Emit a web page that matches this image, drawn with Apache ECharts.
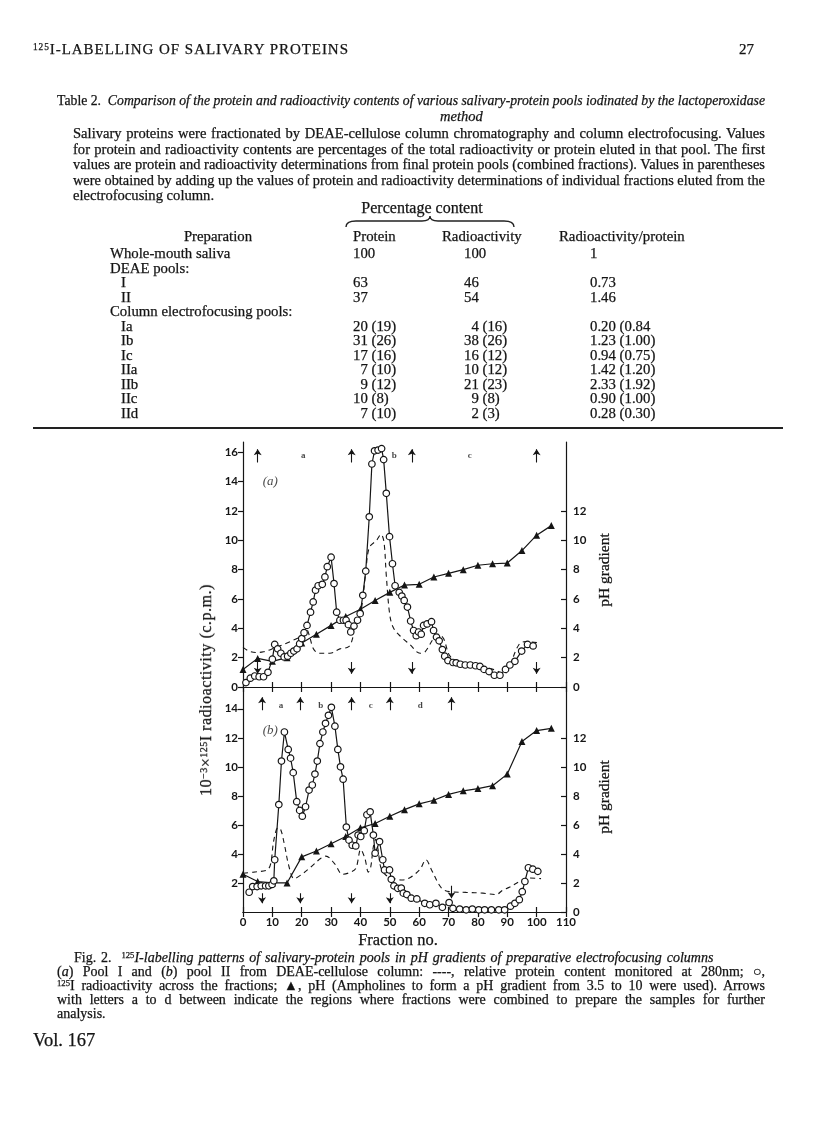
<!DOCTYPE html>
<html><head><meta charset="utf-8">
<script src="https://cdn.jsdelivr.net/npm/echarts@6/dist/echarts.min.js"></script>
<style>
html,body{margin:0;padding:0;background:#fff;}
#page{position:relative;width:816px;height:1136px;overflow:hidden;font-family:'Liberation Serif','Times New Roman',serif;color:#141414;-webkit-text-stroke:0.25px #141414;}
#chart{position:absolute;left:0;top:0;width:816px;height:1136px;}
.t{position:absolute;white-space:nowrap;line-height:1;}
sup{font-size:0.62em;vertical-align:0;position:relative;top:-0.45em;}
.rot{position:absolute;white-space:nowrap;line-height:1;transform:translate(-50%,-50%) rotate(-90deg);}
</style></head>
<body><div id="page"><div id="chart"></div></div>
<script>
// ---------- table data ----------
const prepLabels = ['Whole-mouth saliva','DEAE pools:','I','II','Column electrofocusing pools:','Ia','Ib','Ic','IIa','IIb','IIc','IId'];
const prepIndent = [0,0,1,1,0,1,1,1,1,1,1,1];
const proteinVals = ['100','','63','37','','20 (19)','31 (26)','17 (16)','7 (10)','9 (12)','10 (8)','7 (10)'];
const radioVals   = ['100','','46','54','','4 (16)','38 (26)','16 (12)','10 (12)','21 (23)','9 (8)','2 (3)'];
const ratioVals   = ['1','','0.73','1.46','','0.20 (0.84','1.23 (1.00)','0.94 (0.75)','1.42 (1.20)','2.33 (1.92)','0.90 (1.00)','0.28 (0.30)'];

// ---------- chart data: panel (a) pool I ----------
const radA = [[1,0.3],[2.5,0.6],[4,0.75],[5.5,0.7],[7,0.7],[8.5,1.0],[10,1.9],[10.8,2.9],[11.8,2.6],[12.9,2.3],[14,2.05],[15.2,2.1],[16.3,2.3],[17.3,2.45],[18.4,2.6],[19.3,2.95],[20,3.3],[20.8,3.7],[21.8,4.2],[23,5.1],[23.9,5.8],[24.7,6.6],[25.6,6.9],[27,7.0],[27.9,7.5],[28.7,8.2],[30,8.85],[31,7.05],[31.9,5.1],[33,4.55],[34.2,4.55],[35.1,4.55],[35.9,4.25],[36.7,3.75],[37.8,4.15],[39,4.55],[39.9,5.0],[40.8,6.25],[41.8,7.9],[43,11.6],[43.9,15.2],[44.8,16.1],[46,16.15],[47.2,16.25],[47.9,15.5],[48.8,13.2],[49.9,10.25],[50.9,8.4],[51.8,6.9],[53.2,6.45],[54.1,6.2],[54.9,5.9],[56,5.45],[57.1,4.5],[58.1,3.85],[59,3.5],[59.8,3.75],[60.7,3.6],[61.5,4.2],[62.7,4.3],[64.2,4.45],[64.9,3.85],[65.9,3.4],[66.8,3.15],[67.9,2.55],[68.7,2.1],[69.8,1.8],[71.5,1.67],[72.6,1.65],[74,1.55],[75.7,1.5],[77.4,1.5],[79.2,1.45],[80.7,1.4],[82.1,1.2],[83.8,1.05],[85.6,0.8],[87.5,0.8],[89.4,1.2],[90.9,1.5],[92.6,1.75],[94.9,2.45],[96.9,2.9],[98.8,2.8]];
const phA = [[0,1.2],[5,1.95],[10,1.75],[15,2.0],[20,3.0],[25,3.6],[30,4.2],[35,4.8],[40,5.3],[45,5.9],[50,6.45],[55,6.95],[60,7.0],[65,7.5],[70,7.75],[75,8.0],[80,8.3],[85,8.4],[90,8.45],[95,9.3],[100,10.35],[105,11.0]];
const proteinA = [[0,2.7],[2,2.45],[4.8,2.35],[7,2.4],[10,2.6],[15,3.0],[20,3.5],[21.7,3.9],[22.6,3.5],[24,2.6],[26,2.3],[29.6,2.3],[33,2.6],[36,2.75],[37.3,3.3],[38,4.2],[40,5.0],[41.8,7.8],[43,9.5],[45.5,10.0],[47,10.4],[48,9.9],[48.8,7.6],[50,4.9],[51.3,4.0],[53.9,3.4],[56.8,2.9],[60.3,2.3],[62,2.4],[64.9,3.3],[66.6,3.6],[68.3,3.3],[70.5,2.1],[73.9,1.75],[79.5,1.5],[85.2,1.2],[89.1,0.9],[90.9,1.5],[94,2.9],[96.2,3.1],[101,3.0]];
const arrowsA = [[5,15.3,16.2],[37,15.3,16.2],[57.5,15.3,16.2],[100,15.3,16.2],[5,1.7,0.9],[37,1.7,0.9],[57.5,1.7,0.9],[100,1.7,0.9]];
const lettersA = [['a',20.5,15.75],['b',51.5,15.75],['c',77.2,15.75]];

// ---------- chart data: panel (b) pool II ----------
const radB = [[2.1,1.36],[3.3,1.75],[4.8,1.75],[6.2,1.8],[7.7,1.8],[8.8,1.8],[9.9,1.9],[10.5,2.15],[10.8,3.6],[12.2,7.4],[13.1,10.4],[14.1,12.4],[15.4,11.2],[16.2,10.6],[17.1,9.6],[18.3,7.6],[19.3,7.0],[20.2,6.6],[21.3,7.25],[22.5,8.4],[23.6,8.75],[24.5,9.5],[25.3,10.4],[26.2,11.6],[27.2,12.4],[28.1,13.0],[29.1,13.55],[30.1,14.1],[31.3,12.8],[32.3,11.2],[33.2,10.0],[34.1,9.15],[35.2,5.85],[36.1,4.95],[37.2,4.6],[38.4,4.55],[39.2,5.3],[40.1,5.2],[41.3,5.6],[42.2,6.7],[43.3,6.9],[44.4,5.3],[45,4.05],[46.5,4.85],[47.6,3.6],[48.2,2.9],[49.9,2.9],[50.5,2.25],[51.4,1.8],[52.7,1.63],[53.9,1.65],[54.6,1.3],[55.8,1.2],[57.3,0.95],[59.2,0.9],[61.9,0.6],[63.6,0.5],[65.7,0.6],[67.9,0.32],[70.2,0.65],[71.5,0.25],[73.8,0.2],[76,0.15],[78.1,0.2],[80.3,0.15],[82.3,0.15],[84.6,0.15],[87.1,0.15],[89.1,0.15],[91.1,0.4],[92.6,0.6],[94.1,0.85],[95.1,1.4],[96,2.1],[97.2,3.05],[98.7,2.95],[100.4,2.8]];
const phB = [[0,2.6],[5,2.1],[10,2.0],[15,2.0],[20,3.8],[25,4.2],[30,4.7],[35,5.2],[40,5.8],[45,6.1],[50,6.6],[55,7.05],[60,7.45],[65,7.7],[70,8.1],[75,8.35],[80,8.5],[85,8.7],[90,9.5],[95,11.75],[100,12.5],[105,12.65]];
const proteinB = [[0,2.67],[3.6,2.75],[8.2,2.9],[9.4,3.3],[10.5,4.95],[11.9,5.8],[12.8,5.7],[14,4.75],[15.7,3.1],[17.4,2.3],[19.7,2.55],[23.1,3.1],[26.5,3.7],[28.2,3.85],[31.1,3.35],[33.9,2.6],[36.1,2.7],[38.4,3.0],[40.1,4.3],[41.5,3.7],[42.7,2.75],[43.5,3.1],[44.4,4.5],[45.2,5.0],[46,4.3],[46.9,3.1],[48.6,2.55],[51.4,2.3],[54.2,2.2],[57.1,2.4],[60.3,2.95],[62.3,3.6],[64.2,2.9],[67.6,1.65],[70.5,1.4],[76,1.35],[81.7,1.3],[86.2,1.2],[88.4,1.5],[90.7,1.7],[94.1,2.1],[97,2.35],[101.5,2.3]];
const arrowsB = [[6.5,13.9,14.8],[19.5,13.9,14.8],[37,13.9,14.8],[50,13.9,14.8],[71,13.9,14.8],[6.5,1.3,0.6],[19.5,1.3,0.6],[37,1.3,0.6],[50,1.3,0.6],[71,1.8,0.95]];
const lettersB = [['a',12.9,14.2],['b',26.5,14.2],['c',43.5,14.2],['d',60.4,14.2]];

// ---------- tick labels ----------
const xTicks = [0,10,20,30,40,50,60,70,80,90,100,110];
const leftTicksA = [0,2,4,6,8,10,12,14,16];
const leftTicksB = [2,4,6,8,10,12,14];
const rightTicks = [0,2,4,6,8,10,12];

// ---------- page text ----------
const page = document.getElementById('page');
function add(cls, html, style){ const d=document.createElement('div'); d.className=cls; d.innerHTML=html; Object.assign(d.style,style); page.appendChild(d); return d; }
// fit a single line to an exact width (justify by word or letter spacing, or compress if too long)
function fit(html, left, top, width, fs, byLetter){
  const d = add('t', html, {left:left+'px', top:top+'px', fontSize:fs+'px'});
  const w = d.getBoundingClientRect().width;
  const spaces = (d.textContent.match(/ /g)||[]).length;
  if (w < width) {
    if (byLetter) d.style.letterSpacing = ((width-w)/Math.max(1,d.textContent.length-1))+'px';
    else if (spaces) d.style.wordSpacing = ((width-w)/spaces)+'px';
  } else if (w > width) { d.style.transformOrigin='0 0'; d.style.transform='scaleX('+(width/w)+')'; }
  return d;
}

fit('<sup>125</sup>I-LABELLING OF SALIVARY PROTEINS', 33, 42, 315, 15, true);
add('t','27',{left:'739px',top:'42px',fontSize:'15px'});
fit('Table 2.&nbsp; <i>Comparison of the protein and radioactivity contents of various salivary-protein pools iodinated by the lactoperoxidase</i>', 57, 93, 708, 14.5);
add('t','<i>method</i>',{left:'440px',top:'109px',fontSize:'14.5px'});
const bodyLines = ['Salivary proteins were fractionated by DEAE-cellulose column chromatography and column electrofocusing. Values',
 'for protein and radioactivity contents are percentages of the total radioactivity or protein eluted in that pool. The first',
 'values are protein and radioactivity determinations from final protein pools (combined fractions). Values in parentheses',
 'were obtained by adding up the values of protein and radioactivity determinations of individual fractions eluted from the'];
bodyLines.forEach((l,i)=>fit(l, 73, 126+i*15.6, 692, 14.6));
add('t','electrofocusing column.',{left:'73px',top:(126+4*15.6)+'px',fontSize:'14.6px'});

add('t','Percentage content',{left:'422px',top:'200px',fontSize:'16px',transform:'translateX(-50%)'});
const br = document.createElementNS('http://www.w3.org/2000/svg','svg');
br.setAttribute('width','180'); br.setAttribute('height','14');
Object.assign(br.style,{position:'absolute',left:'340px',top:'215px'});
br.innerHTML='<path d="M6,12 Q6,6 16,6 L82,6 Q90,6 90,1 Q90,6 98,6 L164,6 Q174,6 174,12" fill="none" stroke="#222" stroke-width="1.4"/>';
page.appendChild(br);

const rowTop = 229, tfs = 14.8;
add('t','Preparation',{left:'218px',top:rowTop+'px',fontSize:tfs+'px',transform:'translateX(-50%)'});
add('t','Protein',{left:'353px',top:rowTop+'px',fontSize:tfs+'px'});
add('t','Radioactivity',{left:'442px',top:rowTop+'px',fontSize:tfs+'px'});
add('t','Radioactivity/protein',{left:'559px',top:rowTop+'px',fontSize:tfs+'px'});
function pad(v){ if(!v) return ''; const m=v.split(' ')[0]; return (m.length===1?'\u2007':'')+v; }
prepLabels.forEach((lab,i)=>{
  const top = 246 + i*14.5;
  add('t',lab,{left:(prepIndent[i]?121:110)+'px',top:top+'px',fontSize:tfs+'px'});
  if(proteinVals[i]) add('t',pad(proteinVals[i]),{left:'353px',top:top+'px',fontSize:tfs+'px'});
  if(radioVals[i]) add('t',pad(radioVals[i]),{left:'464px',top:top+'px',fontSize:tfs+'px'});
  if(ratioVals[i]) add('t',ratioVals[i],{left:'590px',top:top+'px',fontSize:tfs+'px'});
});
const rule = document.createElement('div');
Object.assign(rule.style,{position:'absolute',left:'33px',top:'427px',width:'750px',height:'1.6px',background:'#222'});
page.appendChild(rule);

// axis names
const yName = add('rot','10<sup>−3</sup>×<sup>125</sup>I radioactivity (c.p.m.)',{left:'206px',top:'690px',fontSize:'16px'});
{ const w = yName.offsetWidth; if (w < 212) yName.style.letterSpacing = ((212-w)/yName.textContent.length)+'px'; }
add('rot','pH gradient',{left:'604px',top:'570px',fontSize:'15.5px'});
add('rot','pH gradient',{left:'604px',top:'797px',fontSize:'15.5px'});
add('t','Fraction no.',{left:'398px',top:'932px',fontSize:'16.5px',transform:'translateX(-50%)'});

// caption
fit('Fig. 2.&nbsp; <sup>125</sup><i>I-labelling patterns of salivary-protein pools in pH gradients of preparative electrofocusing columns</i>', 74, 951, 638, 14);
const capLines = ['(<i>a</i>) Pool I and (<i>b</i>) pool II from DEAE-cellulose column: ----, relative protein content monitored at 280nm; ○,',
 '<sup>125</sup>I radioactivity across the fractions; ▲, pH (Ampholines to form a pH gradient from 3.5 to 10 were used). Arrows',
 'with letters a to d between indicate the regions where fractions were combined to prepare the samples for further'];
capLines.forEach((l,i)=>fit(l, 57, 965+i*14, 708, 14));
add('t','analysis.',{left:'57px',top:(965+3*14)+'px',fontSize:'14px'});
add('t','Vol. 167',{left:'33px',top:'1031px',fontSize:'18.5px'});

// ---------- chart ----------
const chart = echarts.init(document.getElementById('chart'), null, {renderer:'canvas'});
const ink = '#151515';
const lblFont = {fontFamily:'Lato, "DejaVu Sans", sans-serif', fontWeight:'bold', fontSize:11.5, color:ink};
function xAx(grid, pos, labels){
  return {type:'value', gridIndex:grid, position:pos, min:0, max:110, interval:10,
    axisLine:{show:true, lineStyle:{color:ink,width:1.2}}, axisTick:{show:true, inside:true, length:5, lineStyle:{color:ink,width:1.2}},
    axisLabel:Object.assign({show:labels, margin:4, customValues:xTicks}, lblFont), splitLine:{show:false}};
}
function yAx(grid, pos, max, ticks, inside){
  return {type:'value', gridIndex:grid, position:pos, min:0, max:max, interval:2,
    axisLine:{show:true, onZero:false, lineStyle:{color:ink,width:1.2}},
    axisTick:{show:true, inside:inside, length:5, customValues:ticks, lineStyle:{color:ink,width:1.2}},
    axisLabel:Object.assign({show:true, margin:inside?7:5, customValues:ticks,
      formatter:v=>ticks.indexOf(v)>=0?String(v):''}, lblFont), splitLine:{show:false}};
}
const circleS = (data,xi,yi)=>({type:'line', xAxisIndex:xi, yAxisIndex:yi, data, symbol:'circle', symbolSize:6.5, showAllSymbol:true,
  lineStyle:{color:ink,width:1.2}, itemStyle:{color:'#fff',borderColor:ink,borderWidth:1.2}, z:5, silent:true});
const triS = (data,xi,yi)=>({type:'line', xAxisIndex:xi, yAxisIndex:yi, data, symbol:'triangle', symbolSize:7, showAllSymbol:true,
  lineStyle:{color:ink,width:1.2}, itemStyle:{color:ink}, z:4, silent:true});
const dashS = (data,xi,yi)=>({type:'line', xAxisIndex:xi, yAxisIndex:yi, data, symbol:'none', smooth:0.35,
  lineStyle:{color:ink,width:1.1,type:[5,4]}, z:3, silent:true});
const arrowS = (arr,xi,yi)=>({type:'lines', coordinateSystem:'cartesian2d', xAxisIndex:xi, yAxisIndex:yi,
  symbol:['none','arrow'], symbolSize:6, lineStyle:{color:ink,width:1.1,opacity:1}, z:6, silent:true,
  data:arr.map(a=>({coords:[[a[0],a[1]],[a[0],a[2]]]}))});
const letterS = (arr,xi,yi)=>({type:'scatter', xAxisIndex:xi, yAxisIndex:yi, symbol:'circle', symbolSize:1, itemStyle:{color:'rgba(0,0,0,0)'}, z:6, silent:true,
  label:{show:true, position:'inside', formatter:p=>p.name, fontFamily:'"Liberation Serif", serif', fontWeight:'bold', fontSize:9, color:ink},
  data:arr.map(a=>({name:a[0], value:[a[1],a[2]]}))});
const tagS = (txt,x,y,xi,yi)=>({type:'scatter', xAxisIndex:xi, yAxisIndex:yi, symbol:'circle', symbolSize:1, itemStyle:{color:'rgba(0,0,0,0)'}, z:6, silent:true,
  label:{show:true, position:'inside', formatter:txt, fontFamily:'"Liberation Serif", serif', fontStyle:'italic', fontSize:13, color:ink},
  data:[{name:txt, value:[x,y]}]});

chart.setOption({
  animation:false,
  grid:[{left:243, top:442, width:323, height:245},{left:243, top:687, width:323, height:225}],
  xAxis:[xAx(0,'bottom',false), xAx(0,'top',false), xAx(1,'bottom',true), xAx(1,'top',false)],
  yAxis:[yAx(0,'left',16.7,leftTicksA,false), yAx(0,'right',16.7,rightTicks,true),
         yAx(1,'left',15.5,leftTicksB,false), yAx(1,'right',15.5,rightTicks,true)],
  series:[
    dashS(proteinA,0,0), triS(phA,0,1), circleS(radA,0,0), arrowS(arrowsA,0,0), letterS(lettersA,0,0), tagS('(a)',9.3,14.0,0,0),
    dashS(proteinB,2,2), triS(phB,2,3), circleS(radB,2,2), arrowS(arrowsB,2,2), letterS(lettersB,2,2), tagS('(b)',9.3,12.5,2,2)
  ]
});
</script></body></html>
